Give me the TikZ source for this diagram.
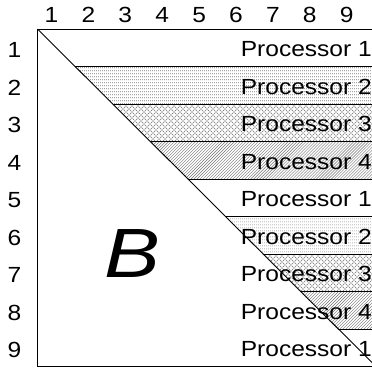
\documentclass[tikz,border=0pt]{standalone}
\usepackage{fontspec}
\usepackage{graphicx}
\setmainfont{Liberation Sans}
\usetikzlibrary{patterns}
\pgfdeclarepatternformonly{hdots}{\pgfpoint{0bp}{0bp}}{\pgfpoint{2bp}{2.6bp}}{\pgfpoint{2bp}{2.6bp}}{%
  \pgfpathrectangle{\pgfpoint{0.3bp}{0.9bp}}{\pgfpoint{1bp}{0.8bp}}\pgfusepath{fill}}
\pgfdeclarepatternformonly{xdash}{\pgfpoint{-1bp}{-1bp}}{\pgfpoint{7bp}{7bp}}{\pgfpoint{6bp}{6bp}}{%
  \pgfsetlinewidth{0.6bp}%
  \pgfpathmoveto{\pgfpoint{0.5bp}{0.5bp}}\pgfpathlineto{\pgfpoint{2.5bp}{2.5bp}}%
  \pgfpathmoveto{\pgfpoint{3.5bp}{3.5bp}}\pgfpathlineto{\pgfpoint{5.5bp}{5.5bp}}%
  \pgfpathmoveto{\pgfpoint{0.5bp}{5.5bp}}\pgfpathlineto{\pgfpoint{2.5bp}{3.5bp}}%
  \pgfpathmoveto{\pgfpoint{3.5bp}{2.5bp}}\pgfpathlineto{\pgfpoint{5.5bp}{0.5bp}}%
  \pgfusepath{stroke}}
\newcommand\wide[1]{\scalebox{1.12}[1]{#1}}
\tikzset{
  lab/.style={font=\fontsize{22}{24}\selectfont, inner sep=0pt, anchor=base},
  proc/.style={font=\fontsize{22}{24}\selectfont, inner sep=0pt, anchor=base east},
  rule/.style={line width=0.9bp, draw=black},
}
\begin{document}
\begin{tikzpicture}[x=1bp,y=-1bp]
\useasboundingbox (0,0) rectangle (372,370);
% shaded bands
\foreach \k/\pat in {2/hdots,3/xdash,4/north east lines,6/hdots,7/xdash,8/north east lines}{
  \pgfmathsetmacro\yt{29+(\k-1)*37.5}
  \pgfmathsetmacro\yb{\yt+37.5}
  \fill[pattern=\pat, pattern color=black!55] (\yt+8.5,\yt) -- (376,\yt) -- (376,\yb) -- (\yb+8.5,\yb) -- cycle;
}
% row separators
\foreach \k in {1,...,8}{
  \pgfmathsetmacro\yy{29+\k*37.5}
  \draw[rule] (\yy+8.5,\yy) -- (376,\yy);
}
% frame and diagonal
\coordinate (tl) at (37.5,29);
\coordinate (tr) at (376,29);
\coordinate (bl) at (37.5,366.5);
\coordinate (br) at (376,366.5);
\draw[rule] (tr) -- (tl) -- (bl) -- (br);
\draw[rule] (tl) -- (br);
% column labels
\foreach \i in {1,...,9}{
  \node[lab] (c\i) at ({51.5+(\i-1)*36.9},22) {\wide{\i}};
}
% row labels and processor labels
\foreach \i/\p in {1/1,2/2,3/3,4/4,5/1,6/2,7/3,8/4,9/1}{
  \node[lab] (r\i) at (14.5,{29+(\i-0.5)*37.5+10}) {\wide{\i}};
  \node[proc] (p\i) at (372,{29+(\i-0.5)*37.5+9}) {\wide{Processor \p}};
}
\node[inner sep=0pt, anchor=base west, font=\fontsize{70}{72}\selectfont\itshape] (B) at (104,277) {\scalebox{1.2}[1]{B}};
\end{tikzpicture}
\end{document}
